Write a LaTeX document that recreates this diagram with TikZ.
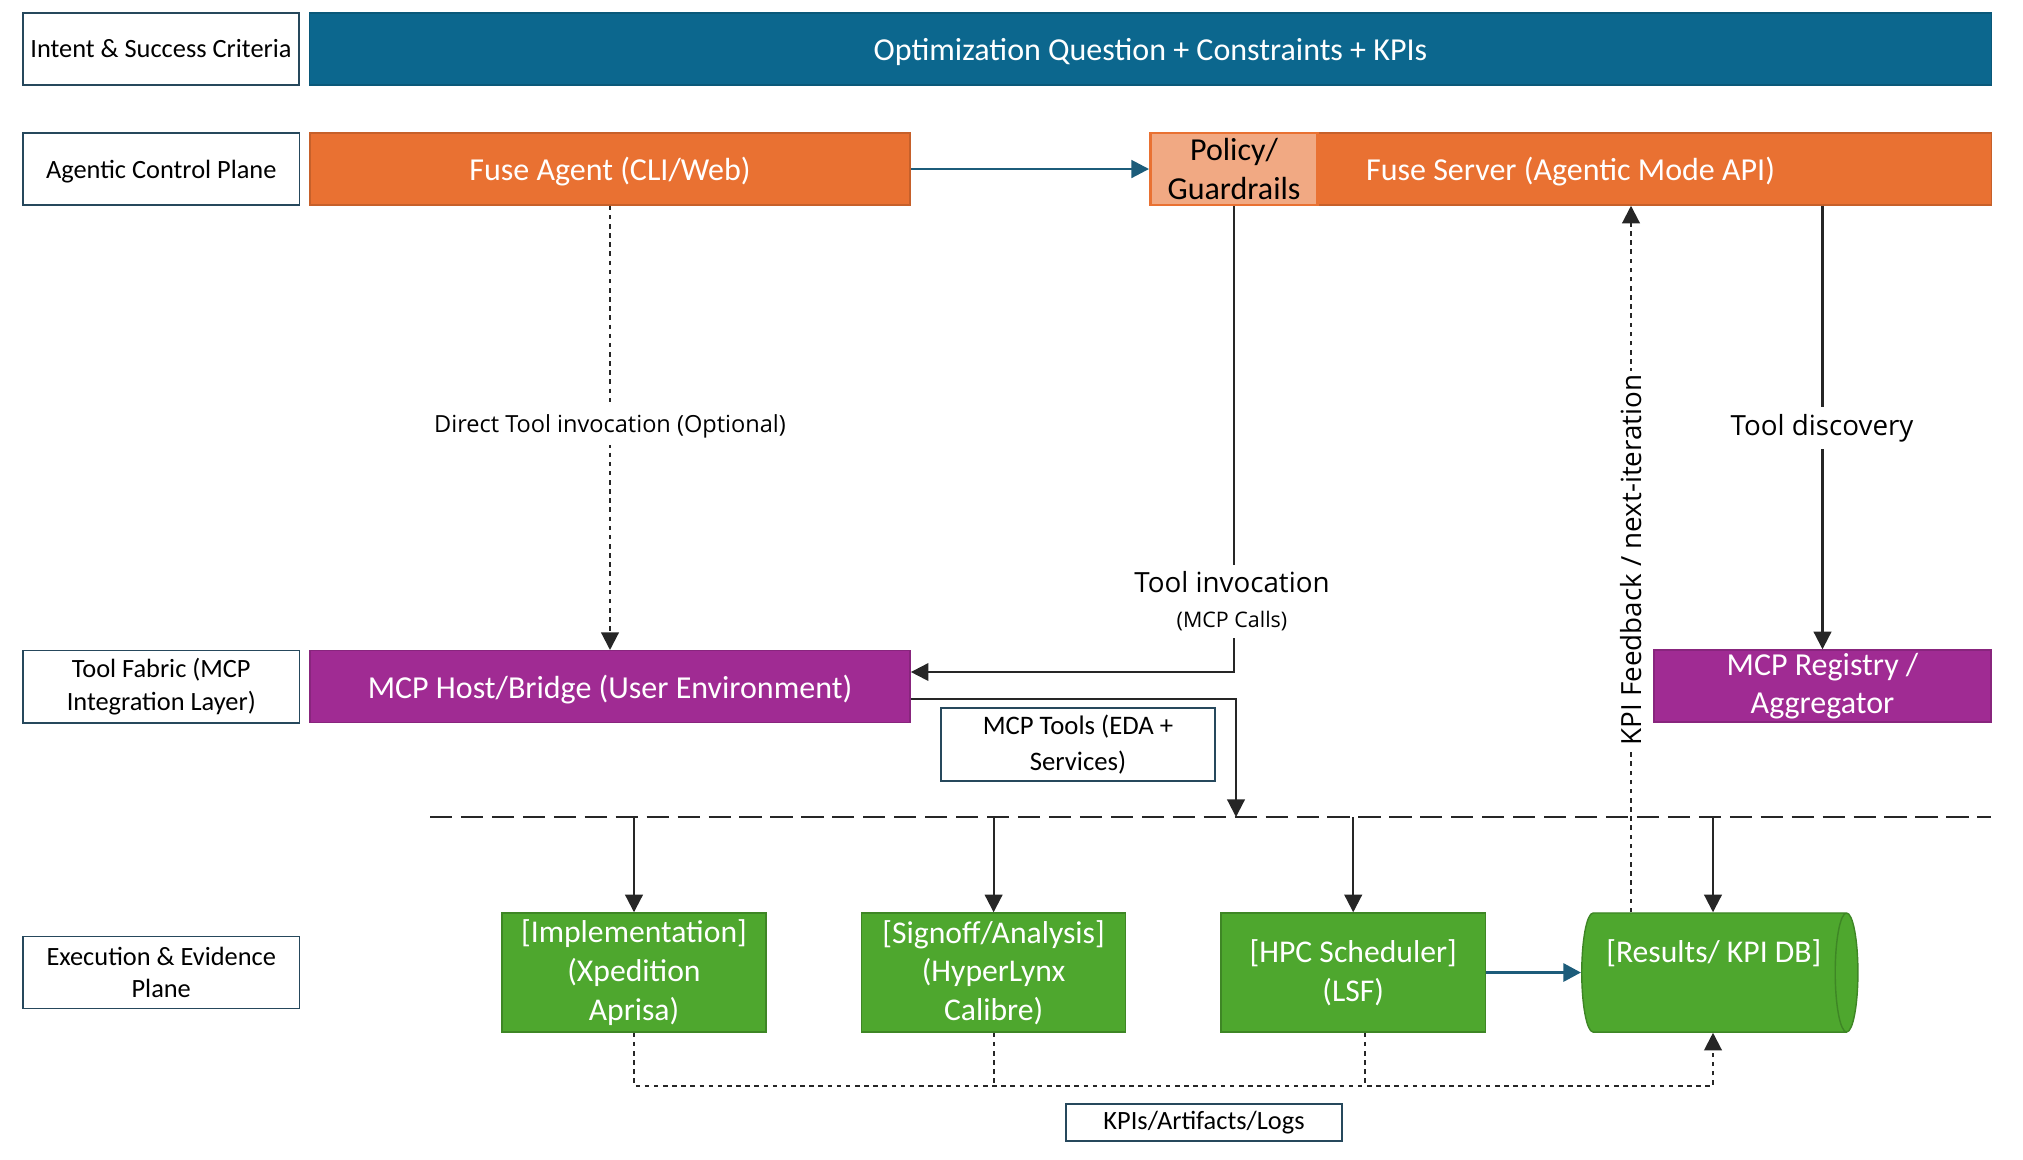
\documentclass[tikz,border=0pt]{standalone}
\usepackage{fontspec}
\setmainfont{Carlito}
\newfontfamily\notefont{Open Sans}
\usetikzlibrary{shapes.geometric, arrows.meta, positioning, calc}

\definecolor{optblue}{RGB}{12,103,142}
\definecolor{fuseorange}{RGB}{233,113,50}
\definecolor{policyfill}{RGB}{241,169,131}
\definecolor{mcppurple}{RGB}{160,43,147}
\definecolor{execgreen}{RGB}{78,167,46}
\definecolor{flowblue}{RGB}{28,92,122}
\definecolor{laneedge}{RGB}{38,72,92}
\definecolor{linegray}{RGB}{38,38,38}

\begin{document}
\begin{tikzpicture}[
      x=0.01cm, y=-0.01cm,
      lane/.style={rectangle, draw=laneedge, line width=0.45pt, fill=white, minimum width=2.76cm, minimum height=0.72cm, inner sep=1pt, align=center, font=\fontsize{7.5}{9.2}\selectfont},
      bar/.style={rectangle, draw=#1!85!black, line width=0.4pt, fill=#1, text=white, minimum height=0.72cm, inner sep=0pt, align=center, font=\fontsize{9.1}{11}\selectfont},
      policybox/.style={rectangle, draw=fuseorange, line width=0.8pt, fill=policyfill, minimum width=1.67cm, minimum height=0.72cm, inner sep=0pt, align=center, font=\fontsize{9.1}{11}\selectfont},
      execbox/.style={rectangle, draw=execgreen!80!black, line width=0.4pt, fill=execgreen, text=white, minimum width=2.64cm, minimum height=1.19cm, inner sep=0pt, align=center, font=\fontsize{9}{11}\selectfont},
      dbbox/.style={cylinder, shape border rotate=0, aspect=0.35, draw=execgreen!80!black, line width=0.4pt, fill=execgreen, text=white, minimum width=1.19cm, minimum height=2.76cm, inner sep=0pt, text depth=0.42cm, font=\fontsize{9}{11}\selectfont},
      note/.style={fill=white, inner sep=2pt, align=center, font=\notefont\fontsize{7.9}{9.5}\selectfont},
      link/.style={draw=linegray, line width=0.6pt, -{Triangle[length=5pt,width=5pt]}},
      dotlink/.style={link, dash pattern=on 1.3pt off 1.3pt},
      flow/.style={draw=flowblue, line width=0.8pt, -{Triangle[length=5pt,width=5pt]}},
      bus/.style={draw=linegray, line width=0.8pt, dash pattern=on 6.3pt off 2.5pt}
    ]
    \useasboundingbox (0,0) rectangle (2023,1159);

    % top row
    \node[bar=optblue, minimum width=16.81cm, text depth=0pt] (opt) at (1150.5,49) {Optimization Question + Constraints + KPIs};
    \node[lane, left=0.09cm of opt] (intent) {Intent \& Success Criteria};

    % control plane
    \node[bar=fuseorange, minimum width=6cm, text depth=0pt] (agent) at (610,169) {Fuse Agent (CLI/Web)};
    \node[lane, left=0.09cm of agent, text depth=0pt] (control) {Agentic Control Plane};
    \node[bar=fuseorange, minimum width=8.41cm, text depth=0pt] (server) at (1570.5,169) {Fuse Server (Agentic Mode API)};
    \node[policybox, anchor=west] (policy) at (server.west) {Policy/\\Guardrails};

    % tool fabric
    \node[bar=mcppurple, minimum width=6cm, below=4.44cm of agent, text depth=0pt] (host) {MCP Host/Bridge (User Environment)};
    \node[lane, left=0.09cm of host] (fabric) {Tool Fabric (MCP\\Integration Layer)};
    \node[bar=mcppurple, minimum width=3.37cm] (registry) at (1822.5,686) {MCP Registry /\\Aggregator};
    \node[lane, minimum width=2.74cm, minimum height=0.73cm, font=\fontsize{7.6}{10.3}\selectfont] (tools) at (1078,744.5) {MCP Tools (EDA +\\Services)};

    % execution plane
    \node[execbox] (impl) at (634,972.5) {[Implementation]\\(Xpedition\\Aprisa)};
    \node[execbox, right=0.94cm of impl] (sign) {[Signoff/Analysis]\\(HyperLynx\\Calibre)};
    \node[execbox, right=0.94cm of sign] (hpc) {[HPC Scheduler]\\(LSF)};
    \node[dbbox, right=0.95cm of hpc] (db) {[Results/ KPI DB]};
    \node[lane, left=2.01cm of impl] (exec) {Execution \& Evidence\\Plane};
    \node[lane, minimum height=0.37cm] (kpis) at (1204,1122.5) {KPIs/Artifacts/Logs};

    \coordinate (busL) at (430,817);
    \coordinate (busR) at (1991,817);
    \coordinate (invk) at (1233,672);
    \coordinate (fb) at (1631,0);
    \coordinate (dbx) at (1713,0);
    \coordinate (collect) at (0,1086);

    % connectors
    \draw[flow] (agent) -- (policy);
    \draw[dotlink] (agent) -- (host);
    \draw[link] (policy.south) -- (policy.south |- invk) -- (host.east |- invk);
    \draw[link] ([yshift=-0.12cm]host.east) -| (busL -| 1236,0);
    \draw[link] (server.south -| registry) -- (registry);
    \draw[dotlink] (db.north -| fb) -- (server.south -| fb);
    \draw[bus] (busL) -- (busR);
    \foreach \blk in {impl, sign, hpc}
      \draw[link] (busL -| \blk) -- (\blk);
    \draw[link] (busL -| dbx) -- (db.north -| dbx);
    \draw[flow, line width=1.1pt] (hpc) -- (db);
    \draw[dotlink] (impl.south) -- (impl.south |- collect) -- (dbx |- collect) -- (db.south -| dbx);
    \draw[dotlink, -] (sign.south) -- (sign.south |- collect);
    \draw[dotlink, -] ([xshift=0.12cm]hpc.south) -- ([xshift=0.12cm]hpc.south |- collect);

    % connector labels
    \node[note, font=\notefont\fontsize{6.7}{8}\selectfont] (direct) at (610,426) {Direct Tool invocation (Optional)};
    \node[note] (invoke) at (1232,601) {Tool invocation\\[0.3pt]{\fontsize{6.1}{7}\selectfont(MCP Calls)}};
    \node[note] (discover) at (1822,428) {Tool discovery};
    \node[note, inner sep=1pt, rotate=90] (feedback) at (1631,560) {KPI Feedback / next-iteration};
  \end{tikzpicture}
\end{document}
